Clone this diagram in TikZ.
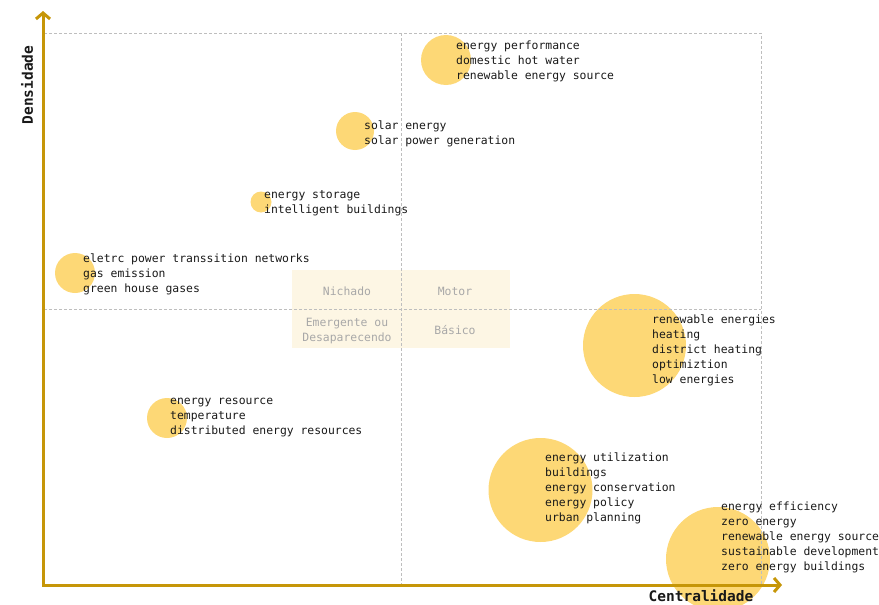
\documentclass[tikz,border=0pt]{standalone}
\usepackage{fontspec}
\usetikzlibrary{arrows.meta}
\newfontfamily\monofont{DejaVu Sans Mono}
\definecolor{axisgold}{RGB}{198,150,8}
\definecolor{bubble}{RGB}{253,216,118}
\definecolor{quadfill}{RGB}{253,246,228}
\definecolor{quadtext}{RGB}{168,168,168}
\definecolor{gridgrey}{RGB}{190,190,190}
\definecolor{ink}{RGB}{25,25,25}
\begin{document}
\begin{tikzpicture}[x=1pt,y=-1pt,
  bubblefill/.style={fill=bubble,draw=none},
  terms/.style={anchor=west,inner sep=0pt,align=left,text=ink,
    font=\monofont\fontsize{11.4}{15}\selectfont},
  quadlabel/.style={inner sep=0pt,align=center,text=quadtext,
    font=\monofont\fontsize{11.4}{15}\selectfont},
  gridline/.style={draw=gridgrey,line width=0.9pt,dash pattern=on 3pt off 2pt},
  axisline/.style={draw=axisgold,line width=3pt,
    arrows={Straight Barb[length=6pt,width=14pt]-Straight Barb[length=6pt,width=14pt]}},
  axislabel/.style={inner sep=0pt,text=ink,
    font=\monofont\bfseries\fontsize{14.5}{16}\selectfont}]
\useasboundingbox (0,0) rectangle (879,605);

% bubbles, sized by weight
\fill[bubblefill] (446,60) circle[radius=25pt];
\fill[bubblefill] (355,131) circle[radius=19pt];
\fill[bubblefill] (261,202) circle[radius=10.5pt];
\fill[bubblefill] (75,273) circle[radius=20pt];
\fill[bubblefill] (167,418) circle[radius=20pt];
\fill[bubblefill] (634.5,345.5) circle[radius=51.5pt];
\fill[bubblefill] (540.5,490) circle[radius=52pt];
\fill[bubblefill] (718,559) circle[radius=52pt];

% quadrant legend
\fill[quadfill] (292,270) rectangle (510,348);
\node[quadlabel] (nichado) at (347,291) {Nichado};
\node[quadlabel] (motor) at (455,291) {Motor};
\node[quadlabel] (emergente) at (347,331) {Emergente ou\\Desaparecendo};
\node[quadlabel] (basico) at (455,330) {Básico};

% dashed frame and quadrant dividers
\draw[gridline] (44,33) -- (761,33) -- (761,585);
\draw[gridline] (401,33) -- (401,585);
\draw[gridline] (44,309) -- (761,309);

% axes
\coordinate (ytip) at (43,11);
\coordinate (origin) at (43,585);
\coordinate (xtip) at (782,585);
\draw[axisline] (ytip) -- (origin) -- (xtip);
\node[axislabel,rotate=90] (ylabel) at (27,85) {Densidade};
\node[axislabel] (xlabel) at (701,595.5) {Centralidade};

% term lists
\node[terms] (t1) at (456,61) {energy performance\\domestic hot water\\renewable energy source};
\node[terms] (t2) at (364,133.5) {solar energy\\solar power generation};
\node[terms] (t3) at (264,203.5) {energy storage\\intelligent buildings};
\node[terms] (t4) at (83,274.5) {eletrc power transsition networks\\gas emission\\green house gases};
\node[terms] (t5) at (170,418) {energy resource\\temperature\\distributed energy resources};
\node[terms] (t6) at (652,350) {renewable energies\\heating\\district heating\\optimiztion\\low energies};
\node[terms] (t7) at (545,488) {energy utilization\\buildings\\energy conservation\\energy policy\\urban planning};
\node[terms] (t8) at (721,537) {energy efficiency\\zero energy\\renewable energy source\\sustainable development\\zero energy buildings};
\end{tikzpicture}
\end{document}
